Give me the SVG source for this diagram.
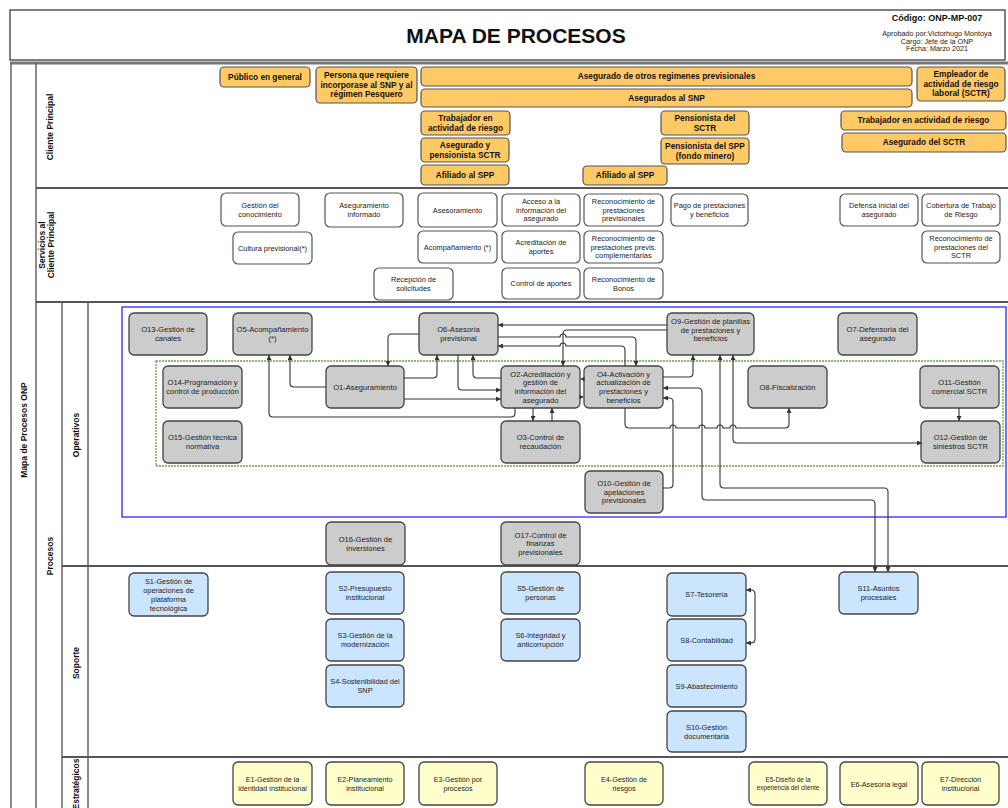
<svg xmlns="http://www.w3.org/2000/svg" width="1008" height="808" viewBox="0 0 1008 808">
<defs>
<marker id="ar" viewBox="0 0 10 10" refX="10" refY="5" markerWidth="5" markerHeight="5" orient="auto-start-reverse" markerUnits="userSpaceOnUse"><path d="M0,0 L10,5 L0,10 z" fill="#333"/></marker>
<style>
text{font-family:"Liberation Sans",Arial,sans-serif;}
.cl rect{fill:#FFC966;stroke:#555;stroke-width:1.2}
.cl text{font-size:8.3px;font-weight:bold;text-anchor:middle;fill:#111}
.sv rect{fill:#fff;stroke:#555;stroke-width:1.2}
.sv text{font-size:7.4px;text-anchor:middle;fill:#222}
.op rect{fill:#CCCCCC;stroke:#444;stroke-width:1.3}
.op text{font-size:7.6px;text-anchor:middle;fill:#222}
.sp rect{fill:#CCE5FF;stroke:#444;stroke-width:1.3}
.sp text{font-size:7.4px;text-anchor:middle;fill:#222}
.es rect{fill:#FFFFCC;stroke:#444;stroke-width:1.3}
.es text{font-size:7.2px;text-anchor:middle;fill:#222}
.lbl{font-size:8.5px;font-weight:bold;text-anchor:middle;fill:#111}
.fr{stroke:#666;stroke-width:1.5;fill:none}
.hr{stroke:#555;stroke-width:2;fill:none}
.cn path{fill:none;stroke:#333;stroke-width:1.1}
.cn .ah{fill:#333;stroke:none}
</style>
</defs>

<g id="frame">
<rect x="10" y="10" width="995" height="50" fill="#fff" stroke="#555" stroke-width="1.5"/>
<line x1="10" y1="63" x2="1008" y2="63" stroke="#777" stroke-width="3"/>
<line class="fr" x1="11" y1="63" x2="11" y2="808"/>
<line class="fr" x1="36" y1="63" x2="36" y2="808"/>
<line class="fr" x1="62" y1="302" x2="62" y2="808"/>
<line class="fr" x1="88" y1="302" x2="88" y2="808"/>
<line class="hr" x1="36" y1="188" x2="1008" y2="188"/>
<line class="hr" x1="36" y1="302" x2="1008" y2="302"/>
<line class="hr" x1="62" y1="566" x2="1008" y2="566"/>
<line class="hr" x1="62" y1="757" x2="1008" y2="757"/>
<rect x="122" y="307" width="884" height="210" fill="none" stroke="#2a2aff" stroke-width="1.3"/>
<rect x="156" y="361" width="847" height="105" fill="none" stroke="#70a050" stroke-width="1.3" stroke-dasharray="2,1"/>
</g>

<g id="header">
<text x="516" y="43" font-size="21" font-weight="bold" text-anchor="middle" fill="#111">MAPA DE PROCESOS</text>
<text x="937" y="21" font-size="9" font-weight="bold" text-anchor="middle" fill="#111">Código: ONP-MP-007</text>
<text x="937" y="36" font-size="7.2" text-anchor="middle" fill="#222">Aprobado por:Victorhugo Montoya</text>
<text x="937" y="43.5" font-size="7.2" text-anchor="middle" fill="#222">Cargo: Jefe de la ONP</text>
<text x="937" y="51" font-size="7.2" text-anchor="middle" fill="#222">Fecha: Marzo 2021</text>
</g>

<g id="labels">
<text class="lbl" font-size="7.5" transform="translate(27,430) rotate(-90)">Mapa de Procesos ONP</text>
<text class="lbl" transform="translate(53,127) rotate(-90)">Cliente Principal</text>
<text class="lbl" transform="translate(45,245) rotate(-90)">Servicios al</text>
<text class="lbl" transform="translate(54,245) rotate(-90)">Cliente Principal</text>
<text class="lbl" transform="translate(53,556) rotate(-90)">Procesos</text>
<text class="lbl" transform="translate(79,435) rotate(-90)">Operativos</text>
<text class="lbl" transform="translate(79,663) rotate(-90)">Soporte</text>
<text class="lbl" transform="translate(79,784) rotate(-90)">Estratégicos</text>
</g>

<g id="cliente">
<g id="c-publico" class="cl"><rect x="220" y="67" width="90" height="20" rx="4"/><text x="265" y="80">Público en general</text></g>
<g id="c-persona" class="cl"><rect x="316" y="67" width="101" height="36" rx="4"/><text x="366.5" y="78.4">Persona que requiere<tspan x="366.5" y="87.9">incorporase al SNP y al</tspan><tspan x="366.5" y="97.4">régimen Pesquero</tspan></text></g>
<g id="c-otros" class="cl"><rect x="421" y="67" width="491" height="19" rx="4"/><text x="666.5" y="79.4">Asegurado de otros regimenes previsionales</text></g>
<g id="c-snp" class="cl"><rect x="421" y="89" width="491" height="18" rx="4"/><text x="666.5" y="100.9">Asegurados al SNP</text></g>
<g id="c-empleador" class="cl"><rect x="917" y="67" width="88" height="34" rx="4"/><text x="961" y="77.4">Empleador de<tspan x="961" y="86.9">actividad de riesgo</tspan><tspan x="961" y="96.4">laboral (SCTR)</tspan></text></g>
<g id="c-trab1" class="cl"><rect x="421" y="111" width="89" height="24" rx="4"/><text x="465.5" y="120.9">Trabajador en<tspan x="465.5" y="130.9">actividad de riesgo</tspan></text></g>
<g id="c-aseg-pens" class="cl"><rect x="421" y="138" width="88" height="24" rx="4"/><text x="465" y="147.9">Asegurado y<tspan x="465" y="157.9">pensionista SCTR</tspan></text></g>
<g id="c-afil1" class="cl"><rect x="421" y="165" width="88" height="20" rx="4"/><text x="465" y="177.9">Afiliado al SPP</text></g>
<g id="c-pens-sctr" class="cl"><rect x="661" y="111" width="88" height="24" rx="4"/><text x="705" y="120.9">Pensionista del<tspan x="705" y="130.9">SCTR</tspan></text></g>
<g id="c-pens-spp" class="cl"><rect x="661" y="138" width="88" height="26" rx="4"/><text x="705" y="148.9">Pensionista del SPP<tspan x="705" y="158.9">(fondo minero)</tspan></text></g>
<g id="c-afil2" class="cl"><rect x="583" y="166" width="84" height="19" rx="4"/><text x="625" y="178.4">Afiliado al SPP</text></g>
<g id="c-trab2" class="cl"><rect x="841" y="111" width="165" height="19" rx="4"/><text x="923.5" y="123.4">Trabajador en actividad de riesgo</text></g>
<g id="c-aseg-sctr" class="cl"><rect x="842" y="133" width="164" height="19" rx="4"/><text x="924" y="145.4">Asegurado del SCTR</text></g>
</g>

<g id="servicios">
<g id="s-gestcon" class="sv"><rect x="221" y="193" width="78" height="33" rx="5"/><text x="260" y="207.8">Gestión del<tspan x="260" y="216.5">conocimiento</tspan></text></g>
<g id="s-asegInf" class="sv"><rect x="325" y="193" width="78" height="34" rx="5"/><text x="364" y="208.3">Aseguramiento<tspan x="364" y="217">informado</tspan></text></g>
<g id="s-asesor" class="sv"><rect x="418" y="193" width="79" height="34" rx="5"/><text x="457.5" y="212.6">Asesoramiento</text></g>
<g id="s-cultura" class="sv"><rect x="233" y="232" width="79" height="32" rx="5"/><text x="272.5" y="250.6">Cultura previsional(*)</text></g>
<g id="s-acomp" class="sv"><rect x="418" y="231" width="79" height="32" rx="5"/><text x="457.5" y="249.6">Acompañamiento (*)</text></g>
<g id="s-recep" class="sv"><rect x="374" y="268" width="79" height="32" rx="5"/><text x="413.5" y="282.3">Recepción de<tspan x="413.5" y="291">solicitudes</tspan></text></g>
<g id="s-acceso" class="sv"><rect x="502" y="194" width="78" height="32" rx="5"/><text x="541" y="203.9">Acceso a la<tspan x="541" y="212.6">información del</tspan><tspan x="541" y="221.3">asegurado</tspan></text></g>
<g id="s-recprev" class="sv"><rect x="584" y="194" width="79" height="32" rx="5"/><text x="623.5" y="203.9">Reconocimiento de<tspan x="623.5" y="212.6">prestaciones</tspan><tspan x="623.5" y="221.3">previsionales</tspan></text></g>
<g id="s-pago" class="sv"><rect x="671" y="194" width="77" height="32" rx="5"/><text x="709.5" y="208.3">Pago de prestaciones<tspan x="709.5" y="217">y beneficios</tspan></text></g>
<g id="s-defensa" class="sv"><rect x="840" y="194" width="78" height="32" rx="5"/><text x="879" y="208.3">Defensa inicial del<tspan x="879" y="217">asegurado</tspan></text></g>
<g id="s-cobertura" class="sv"><rect x="922" y="194" width="78" height="32" rx="5"/><text x="961" y="208.3">Cobertura de Trabajo<tspan x="961" y="217">de Riesgo</tspan></text></g>
<g id="s-acred" class="sv"><rect x="502" y="231" width="78" height="32" rx="5"/><text x="541" y="245.3">Acreditación de<tspan x="541" y="254">aportes</tspan></text></g>
<g id="s-reccomp" class="sv"><rect x="584" y="231" width="79" height="32" rx="5"/><text x="623.5" y="240.9">Reconocimiento de<tspan x="623.5" y="249.6">prestaciones previs.</tspan><tspan x="623.5" y="258.3">complementarias</tspan></text></g>
<g id="s-recsctr" class="sv"><rect x="922" y="231" width="78" height="32" rx="5"/><text x="961" y="240.9">Reconocimiento de<tspan x="961" y="249.6">prestaciones del</tspan><tspan x="961" y="258.3">SCTR</tspan></text></g>
<g id="s-control" class="sv"><rect x="502" y="268" width="78" height="31" rx="5"/><text x="541" y="286.1">Control de aportes</text></g>
<g id="s-bonos" class="sv"><rect x="584" y="268" width="79" height="31" rx="5"/><text x="623.5" y="281.8">Reconocimiento de<tspan x="623.5" y="290.5">Bonos</tspan></text></g>
</g>

<g id="operativos">
<g id="O13" class="op"><rect x="129" y="313" width="78" height="42" rx="5"/><text x="168" y="332.4">O13-Gestión de<tspan x="168" y="341.1">canales</tspan></text></g>
<g id="O5" class="op"><rect x="233" y="313" width="79" height="42" rx="5"/><text x="272.5" y="332.4">O5-Acompañamiento<tspan x="272.5" y="341.1">(*)</tspan></text></g>
<g id="O6" class="op"><rect x="419" y="313" width="79" height="42" rx="5"/><text x="458.5" y="332.4">O6-Asesoría<tspan x="458.5" y="341.1">previsional</tspan></text></g>
<g id="O9" class="op"><rect x="667" y="313" width="87" height="42" rx="5"/><text x="710.5" y="324">O9-Gestión de planillas<tspan x="710.5" y="332.7">de prestaciones y</tspan><tspan x="710.5" y="341.4">beneficios</tspan></text></g>
<g id="O7" class="op"><rect x="838" y="313" width="79" height="42" rx="5"/><text x="877.5" y="332.4">O7-Defensoría del<tspan x="877.5" y="341.1">asegurado</tspan></text></g>
<g id="O14" class="op"><rect x="163" y="366" width="79" height="42" rx="5"/><text x="202.5" y="385.4">O14-Programación y<tspan x="202.5" y="394.1">control de producción</tspan></text></g>
<g id="O1" class="op"><rect x="326" y="366" width="78" height="42" rx="5"/><text x="365" y="389.7">O1-Aseguramiento</text></g>
<g id="O2" class="op"><rect x="501" y="366" width="79" height="42" rx="5"/><text x="540.5" y="376.7">O2-Acreditación y<tspan x="540.5" y="385.4">gestión de</tspan><tspan x="540.5" y="394.1">información del</tspan><tspan x="540.5" y="402.8">asegurado</tspan></text></g>
<g id="O4" class="op"><rect x="584" y="366" width="79" height="42" rx="5"/><text x="623.5" y="376.7">O4-Activación y<tspan x="623.5" y="385.4">actualización de</tspan><tspan x="623.5" y="394.1">prestaciones y</tspan><tspan x="623.5" y="402.8">beneficios</tspan></text></g>
<g id="O8" class="op"><rect x="748" y="366" width="79" height="42" rx="5"/><text x="787.5" y="389.7">O8-Fiscalización</text></g>
<g id="O11" class="op"><rect x="920" y="366" width="79" height="42" rx="5"/><text x="959.5" y="385.4">O11-Gestión<tspan x="959.5" y="394.1">comercial SCTR</tspan></text></g>
<g id="O15" class="op"><rect x="163" y="421" width="79" height="42" rx="5"/><text x="202.5" y="440.4">O15-Gestión técnica<tspan x="202.5" y="449.1">normativa</tspan></text></g>
<g id="O3" class="op"><rect x="501" y="421" width="79" height="42" rx="5"/><text x="540.5" y="440.4">O3-Control de<tspan x="540.5" y="449.1">recaudación</tspan></text></g>
<g id="O12" class="op"><rect x="921" y="421" width="79" height="42" rx="5"/><text x="960.5" y="440.4">O12-Gestión de<tspan x="960.5" y="449.1">siniestros SCTR</tspan></text></g>
<g id="O10" class="op"><rect x="585" y="471" width="78" height="42" rx="5"/><text x="624" y="486">O10-Gestión de<tspan x="624" y="494.7">apelaciones</tspan><tspan x="624" y="503.4">previsionales</tspan></text></g>
<g id="O16" class="op"><rect x="326" y="522" width="79" height="43" rx="5"/><text x="365.5" y="541.9">O16-Gestión de<tspan x="365.5" y="550.6">inversiones</tspan></text></g>
<g id="O17" class="op"><rect x="501" y="522" width="79" height="43" rx="5"/><text x="540.5" y="537.5">O17-Control de<tspan x="540.5" y="546.2">finanzas</tspan><tspan x="540.5" y="554.9">previsionales</tspan></text></g>
</g>

<g id="soporte">
<g id="S1" class="sp"><rect x="129" y="573" width="79" height="43" rx="5"/><text x="168.5" y="583.6">S1-Gestión de<tspan x="168.5" y="592.6">operaciones de</tspan><tspan x="168.5" y="601.6">plataforma</tspan><tspan x="168.5" y="610.6">tecnológica</tspan></text></g>
<g id="S2" class="sp"><rect x="326" y="572" width="78" height="42" rx="5"/><text x="365" y="591.1">S2-Presupuesto<tspan x="365" y="600.1">institucional</tspan></text></g>
<g id="S3" class="sp"><rect x="326" y="619" width="78" height="42" rx="5"/><text x="365" y="638.1">S3-Gestión de la<tspan x="365" y="647.1">modernización</tspan></text></g>
<g id="S4" class="sp"><rect x="326" y="665" width="78" height="42" rx="5"/><text x="365" y="684.1">S4-Sostenibilidad del<tspan x="365" y="693.1">SNP</tspan></text></g>
<g id="S5" class="sp"><rect x="501" y="572" width="79" height="42" rx="5"/><text x="540.5" y="591.1">S5-Gestión de<tspan x="540.5" y="600.1">personas</tspan></text></g>
<g id="S6" class="sp"><rect x="501" y="619" width="79" height="42" rx="5"/><text x="540.5" y="638.1">S6-Integridad y<tspan x="540.5" y="647.1">anticorrupción</tspan></text></g>
<g id="S7" class="sp"><rect x="667" y="573" width="79" height="43" rx="5"/><text x="706.5" y="597.1">S7-Tesorería</text></g>
<g id="S8" class="sp"><rect x="667" y="619" width="79" height="42" rx="5"/><text x="706.5" y="642.6">S8-Contabilidad</text></g>
<g id="S9" class="sp"><rect x="667" y="665" width="79" height="42" rx="5"/><text x="706.5" y="688.6">S9-Abastecimiento</text></g>
<g id="S10" class="sp"><rect x="667" y="711" width="79" height="41" rx="5"/><text x="706.5" y="729.6">S10-Gestión<tspan x="706.5" y="738.6">documentaria</tspan></text></g>
<g id="S11" class="sp"><rect x="839" y="572" width="79" height="42" rx="5"/><text x="878.5" y="591.1">S11-Asuntos<tspan x="878.5" y="600.1">procesales</tspan></text></g>
</g>

<g id="estrategicos">
<g id="E1" class="es"><rect x="233" y="762" width="79" height="43" rx="5"/><text x="272.5" y="782.3">E1-Gestión de la<tspan x="272.5" y="790.8">identidad institucional</tspan></text></g>
<g id="E2" class="es"><rect x="326" y="762" width="78" height="43" rx="5"/><text x="365" y="782.3">E2-Planeamiento<tspan x="365" y="790.8">institucional</tspan></text></g>
<g id="E3" class="es"><rect x="419" y="762" width="78" height="43" rx="5"/><text x="458" y="782.3">E3-Gestión por<tspan x="458" y="790.8">procesos</tspan></text></g>
<g id="E4" class="es"><rect x="585" y="762" width="78" height="43" rx="5"/><text x="624" y="782.3">E4-Gestión de<tspan x="624" y="790.8">riesgos</tspan></text></g>
<g id="E5" class="es"><rect x="749" y="762" width="78" height="43" rx="5"/><text x="788" y="782.3" style="font-size:6.3px">E5-Diseño de la<tspan x="788" y="790.3">experiencia del cliente</tspan></text></g>
<g id="E6" class="es"><rect x="840" y="762" width="78" height="43" rx="5"/><text x="879" y="786.5">E6-Asesoría legal</text></g>
<g id="E7" class="es"><rect x="922" y="762" width="77" height="43" rx="5"/><text x="960.5" y="782.3">E7-Dirección<tspan x="960.5" y="790.8">institucional</tspan></text></g>
</g>

<g id="connectors" class="cn">
<path d="M326 387 H294 Q290 387 290 383 V355" marker-end="url(#ar)"/>
<path d="M515 408 V413 Q515 417 511 417 H273 Q269 417 269 413 V355" marker-end="url(#ar)"/>
<path d="M419 334 H392 Q388 334 388 338 V366" marker-end="url(#ar)"/>
<path d="M404 378 H433 Q437 378 437 374 V355" marker-end="url(#ar)"/>
<path d="M404 399 H501" marker-end="url(#ar)"/>
<path d="M458 355 V386 Q458 390 462 390 H501" marker-end="url(#ar)"/>
<path d="M501 378 H477 Q473 378 473 374 V355" marker-end="url(#ar)"/>
<path d="M533 408 V421" marker-end="url(#ar)"/>
<path d="M552 421 V408" marker-end="url(#ar)"/>
<path d="M667 325 H498" marker-end="url(#ar)"/>
<path d="M667 330 H567 Q563 330 563 334 V366" marker-end="url(#ar)"/>
<path d="M498 337 H560 A3 3 0 0 1 566 337 H632 Q636 337 636 341 V366" marker-end="url(#ar)"/>
<path d="M625 366 V350 Q625 346 621 346 H566 A3 3 0 0 0 560 346 H498" marker-end="url(#ar)"/>
<path d="M663 377 H689 Q693 377 693 373 V355" marker-end="url(#ar)"/>
<polygon class="ah" points="580,379 584.5,376.8 584.5,381.2"/>
<polygon class="ah" points="584,397 579.5,394.8 579.5,399.2"/>
<path d="M663 488 H669 Q673 488 673 484 V402 Q673 398 669 398 H663" marker-end="url(#ar)"/>
<path d="M663 388 H698 Q702 388 702 392 V496 Q702 500 706 500 H871 Q875 500 875 504 V572" marker-start="url(#ar)" marker-end="url(#ar)"/>
<path d="M720 355 V484 Q720 488 724 488 H884 Q888 488 888 492 V572" marker-start="url(#ar)" marker-end="url(#ar)"/>
<path d="M733 355 V439 Q733 443 737 443 H922" marker-start="url(#ar)" marker-end="url(#ar)"/>
<path d="M625 408 V424 Q625 428 629 428 H670 A3 3 0 0 1 676 428 H699 A3 3 0 0 1 705 428 H717 A3 3 0 0 1 723 428 H730 A3 3 0 0 1 736 428 H785 Q789 428 789 424 V408" marker-end="url(#ar)"/>
<path d="M959 408 V421" marker-end="url(#ar)"/>
<path d="M746 590 H751 Q755 590 755 594 V639 Q755 643 751 643 H746" marker-start="url(#ar)" marker-end="url(#ar)"/>
</g>
</svg>
